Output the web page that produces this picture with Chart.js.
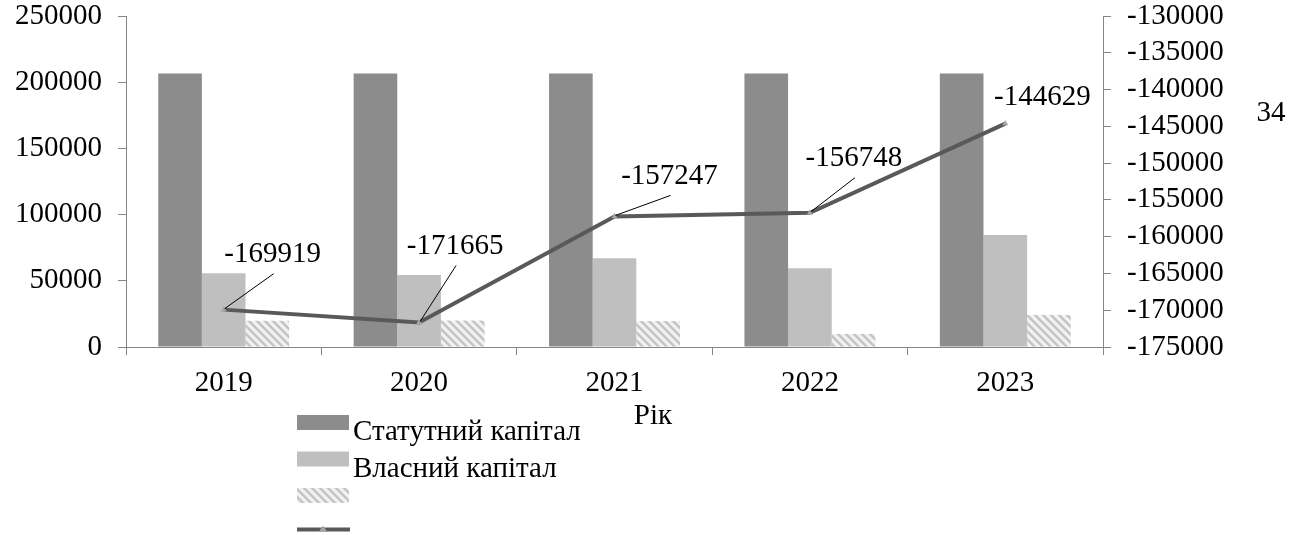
<!DOCTYPE html>
<html>
<head>
<meta charset="utf-8">
<script src="https://cdn.jsdelivr.net/npm/chart.js@4.4.1/dist/chart.umd.min.js"></script>
<style>
  html, body { margin: 0; padding: 0; background: #fff; }
  #chart-container { width: 1300px; height: 535px; }
</style>
</head>
<body>
<div id="chart-container"><canvas id="chart" width="1300" height="535"></canvas></div>
<script>
const years = ['2019', '2020', '2021', '2022', '2023'];
const seriesNames = ['Статутний капітал', 'Власний капітал', '', ''];
const statutory = [206500, 206500, 206500, 206500, 206500];
const equity = [55700, 54400, 67000, 59500, 84500];
const third = [19900, 20000, 19600, 9800, 24200];
const result = [-169919, -171665, -157247, -156748, -144629];
const leftTicks = [0, 50000, 100000, 150000, 200000, 250000];
const rightTicks = [-175000, -170000, -165000, -160000, -155000, -150000, -145000, -140000, -135000, -130000];

const FONT = 'Liberation Serif, Times New Roman, serif';
const AXIS = '#868686';

// hatched fill for the third series
function makeHatch() {
    const c = document.createElement('canvas');
    c.width = 8; c.height = 8;
    const g = c.getContext('2d');
    g.fillStyle = '#f2f2f2';
    g.fillRect(0, 0, 8, 8);
    g.strokeStyle = '#c4c4c4';
    g.lineWidth = 2.5;
    g.beginPath();
    g.moveTo(-2, -2); g.lineTo(10, 10);
    g.moveTo(-6, 2); g.lineTo(2, 10);
    g.moveTo(6, -2); g.lineTo(10, 2);
    g.stroke();
    return document.getElementById('chart').getContext('2d').createPattern(c, 'repeat');
}
const hatch = makeHatch();

// label offsets relative to each line point (dx, dy, leader line?)
const labelOffsets = [[49, -55, true], [36, -76, true], [55, -40, true], [44, -54, true], [37, -26, false]];

const overlay = {
    id: 'overlay',
    afterDatasetsDraw(chart) {
        const ctx = chart.ctx;
        const meta = chart.getDatasetMeta(3);
        ctx.save();
        ctx.font = '29px ' + FONT;
        ctx.fillStyle = '#000';
        ctx.textAlign = 'center';
        ctx.textBaseline = 'middle';
        meta.data.forEach((pt, i) => {
            const [dx, dy, lead] = labelOffsets[i];
            const lx = pt.x + dx, ly = pt.y + dy;
            if (lead) {
                ctx.strokeStyle = '#000';
                ctx.lineWidth = 1;
                ctx.beginPath();
                ctx.moveTo(pt.x + 1, pt.y - 1);
                ctx.lineTo(lx + 1, ly + 19);
                ctx.stroke();
            }
            ctx.fillText(String(result[i]), lx, ly);
        });
        // axis title and stray label
        ctx.fillText('Рік', 653, 416);
        ctx.fillText('34', 1271, 113);

        // legend
        const fills = ['#8c8c8c', '#bfbfbf', hatch];
        ctx.textAlign = 'left';
        ctx.textBaseline = 'alphabetic';
        for (let i = 0; i < 4; i++) {
            const top = 415 + i * 36.5;
            if (i < 3) {
                ctx.fillStyle = fills[i];
                ctx.fillRect(297, top, 52, 15);
            } else {
                ctx.strokeStyle = '#595959';
                ctx.lineWidth = 4;
                ctx.beginPath();
                ctx.moveTo(297, top + 5);
                ctx.lineTo(350, top + 5);
                ctx.stroke();
                ctx.fillStyle = '#a6a6a6';
                ctx.beginPath();
                ctx.moveTo(323, top + 1);
                ctx.lineTo(327, top + 7);
                ctx.lineTo(319, top + 7);
                ctx.closePath();
                ctx.fill();
            }
            ctx.fillStyle = '#000';
            ctx.fillText(seriesNames[i], 353, top + 25);
        }
        ctx.restore();
    }
};

const tickFont = { family: FONT, size: 29, lineHeight: 1 };

const chartData = {
    labels: years,
    datasets: [
        { type: 'bar', label: seriesNames[0], data: statutory, backgroundColor: '#8c8c8c', yAxisID: 'y', order: 2 },
        { type: 'bar', label: seriesNames[1], data: equity, backgroundColor: '#bfbfbf', yAxisID: 'y', order: 2 },
        { type: 'bar', label: seriesNames[2], data: third, backgroundColor: hatch, yAxisID: 'y', order: 2 },
        {
            type: 'line', label: seriesNames[3], data: result, yAxisID: 'y1', order: 0,
            borderColor: '#595959', borderWidth: 4, tension: 0,
            pointStyle: 'triangle', pointRadius: 3.5, pointBackgroundColor: '#a6a6a6',
            pointBorderColor: '#a6a6a6', pointBorderWidth: 0
        }
    ]
};

const chartConfig = {
    data: chartData,
    options: {
        responsive: false,
        animation: false,
        layout: { padding: { top: 16, left: 0, right: 0, bottom: 0 } },
        datasets: { bar: { categoryPercentage: 0.67, barPercentage: 1.0 } },
        plugins: { legend: { display: false }, tooltip: { enabled: false } },
        scales: {
            x: {
                offset: true,
                grid: { drawOnChartArea: false, tickLength: 8, color: AXIS, offset: true },
                border: { color: AXIS, width: 1 },
                ticks: { font: tickFont, color: '#000', padding: 14, maxRotation: 0 },
                afterFit(s) { s.height = 188; }
            },
            y: {
                position: 'left',
                min: 0, max: 250000,
                afterBuildTicks(s) { s.ticks = leftTicks.map(v => ({ value: v })); },
                grid: { drawOnChartArea: false, tickLength: 8, color: AXIS },
                border: { color: AXIS, width: 1 },
                ticks: { font: tickFont, color: '#000', padding: 16, autoSkip: false, callback: v => String(v) },
                afterFit(s) { s.width = 126; s.paddingTop = 0; }
            },
            y1: {
                position: 'right',
                min: -175000, max: -130000,
                afterBuildTicks(s) { s.ticks = rightTicks.map(v => ({ value: v })); },
                grid: { drawOnChartArea: false, tickLength: 8, color: AXIS },
                border: { color: AXIS, width: 1 },
                ticks: { font: tickFont, color: '#000', padding: 16, autoSkip: false, callback: v => String(v) },
                afterFit(s) { s.width = 197; s.paddingTop = 0; }
            }
        }
    },
    plugins: [overlay]
};

const myChart = new Chart(document.getElementById('chart').getContext('2d'), chartConfig);
</script>
</body>
</html>
